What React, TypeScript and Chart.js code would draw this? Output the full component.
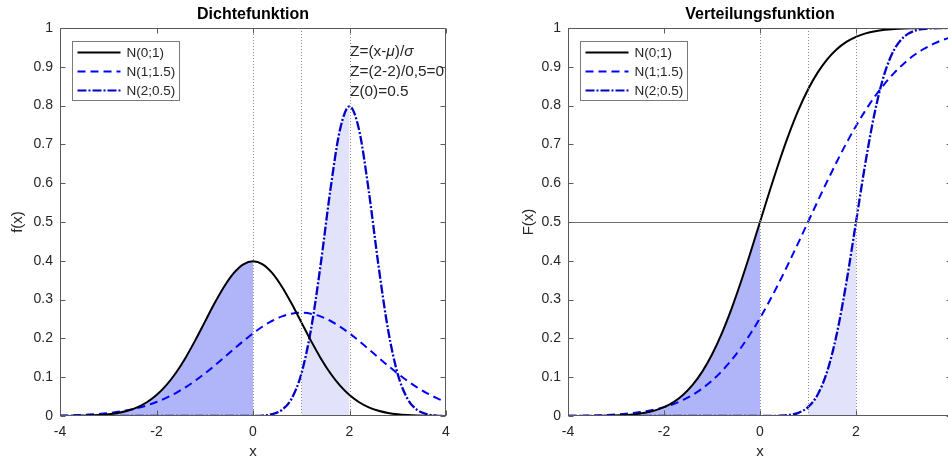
import React, { useEffect, useRef } from "react";
import { Chart, registerables } from "chart.js";

Chart.register(...registerables);

const FONT = "'Liberation Sans', Arial, Helvetica, sans-serif";

// x grid of the sampled curves
const xValues = [
  -4, -3.8, -3.6, -3.4, -3.2, -3, -2.8, -2.6, -2.4, -2.2, -2, -1.8, -1.6, -1.4, -1.2, -1, -0.8, -0.6, -0.4, -0.2,
  0, 0.2, 0.4, 0.6, 0.8, 1, 1.2, 1.4, 1.6, 1.8, 2, 2.2, 2.4, 2.6, 2.8, 3, 3.2, 3.4, 3.6, 3.8, 4,
];

// Dichtefunktion
const pdfN01 = [
  0.0001, 0.0003, 0.0006, 0.0012, 0.0024, 0.0044, 0.0079, 0.0136, 0.0224, 0.0355, 0.054, 0.079, 0.1109, 0.1497, 0.1942, 0.242, 0.2897, 0.3332, 0.3683, 0.391,
  0.3989, 0.391, 0.3683, 0.3332, 0.2897, 0.242, 0.1942, 0.1497, 0.1109, 0.079, 0.054, 0.0355, 0.0224, 0.0136, 0.0079, 0.0044, 0.0024, 0.0012, 0.0006, 0.0003, 0.0001,
];
const pdfN115 = [
  0.001, 0.0016, 0.0024, 0.0036, 0.0053, 0.0076, 0.0107, 0.0149, 0.0204, 0.0273, 0.036, 0.0466, 0.0592, 0.0739, 0.0907, 0.1093, 0.1295, 0.1506, 0.1721, 0.1931,
  0.213, 0.2307, 0.2455, 0.2567, 0.2636, 0.266, 0.2636, 0.2567, 0.2455, 0.2307, 0.213, 0.1931, 0.1721, 0.1506, 0.1295, 0.1093, 0.0907, 0.0739, 0.0592, 0.0466, 0.036,
];
const pdfN205 = [
  0, 0, 0, 0, 0, 0, 0, 0, 0, 0, 0, 0, 0, 0, 0, 0, 0, 0, 0, 0,
  0.0003, 0.0012, 0.0048, 0.0158, 0.0448, 0.108, 0.2218, 0.3884, 0.5794, 0.7366, 0.7979, 0.7366, 0.5794, 0.3884, 0.2218, 0.108, 0.0448, 0.0158, 0.0048, 0.0012, 0.0003,
];

// Verteilungsfunktion
const cdfN01 = [
  0, 0.0001, 0.0002, 0.0003, 0.0007, 0.0013, 0.0026, 0.0047, 0.0082, 0.0139, 0.0228, 0.0359, 0.0548, 0.0808, 0.1151, 0.1587, 0.2119, 0.2743, 0.3446, 0.4207,
  0.5, 0.5793, 0.6554, 0.7257, 0.7881, 0.8413, 0.8849, 0.9192, 0.9452, 0.9641, 0.9772, 0.9861, 0.9918, 0.9953, 0.9974, 0.9987, 0.9993, 0.9997, 0.9998, 0.9999, 1,
];
const cdfN115 = [
  0.0004, 0.0007, 0.0011, 0.0017, 0.0026, 0.0038, 0.0056, 0.0082, 0.0117, 0.0164, 0.0228, 0.031, 0.0415, 0.0548, 0.0712, 0.0912, 0.1151, 0.1431, 0.1753, 0.2119,
  0.2525, 0.2969, 0.3446, 0.3949, 0.447, 0.5, 0.553, 0.6051, 0.6554, 0.7031, 0.7475, 0.7881, 0.8247, 0.8569, 0.8849, 0.9088, 0.929, 0.9452, 0.9585, 0.969, 0.9772,
];
const cdfN205 = [
  0, 0, 0, 0, 0, 0, 0, 0, 0, 0, 0, 0, 0, 0, 0, 0, 0, 0, 0, 0,
  0, 0.0002, 0.0007, 0.0026, 0.0082, 0.0228, 0.0548, 0.1151, 0.2119, 0.3446, 0.5, 0.6554, 0.7881, 0.8849, 0.9452, 0.9772, 0.9918, 0.9974, 0.9993, 0.9998, 1,
];

const seriesNames = ["N(0;1)", "N(1;1.5)", "N(2;0.5)"];
const panelTitles = ["Dichtefunktion", "Verteilungsfunktion"];
const axisTitlesY = ["f(x)", "F(x)"];
const axisTitleX = "x";
const xTicks = [-4, -2, 0, 2, 4];
const yTicks = [0, 0.1, 0.2, 0.3, 0.4, 0.5, 0.6, 0.7, 0.8, 0.9, 1];
const markerX = [0, 1, 2];
const cdfRefLevel = 0.5;
const shadeDarkRange = [-4, 0];
const shadeLightRange = [1, 2];
const annotationLines = ["Z=(x-μ)/σ", "Z=(2-2)/0,5=0", "Z(0)=0.5"];
const annotationX = 2;

const COL_BLACK = "#000000";
const COL_BLUE = "#0000ff";
const COL_BLUE2 = "#0000c8";
const COL_DARK_FILL = "#b0b4f8";
const COL_LIGHT_FILL = "#e2e2fb";
const TXT = "#262626";

function pts(ys: number[], from = -Infinity, to = Infinity) {
  const out: { x: number; y: number }[] = [];
  xValues.forEach((x, i) => {
    if (x >= from - 1e-9 && x <= to + 1e-9) out.push({ x, y: ys[i] });
  });
  return out;
}

type PanelCfg = {
  title: string;
  yTitle: string;
  curves: number[][];
  padLeft: number;
  axisW: number;
  padRight: number;
  width: number;
  refLine: boolean;
  annotate: boolean;
};

const styles = [
  { color: COL_BLACK, dash: [] as number[], width: 2 },
  { color: COL_BLUE, dash: [8, 5], width: 2 },
  { color: COL_BLUE2, dash: [9, 2, 2, 2], width: 2.3 },
];

function makeChart(canvas: HTMLCanvasElement, cfg: PanelCfg) {
  const [c0, , c2] = cfg.curves;
  const datasets: any[] = [
    ...cfg.curves.map((c, i) => ({
      label: seriesNames[i],
      data: pts(c),
      borderColor: styles[i].color,
      borderDash: styles[i].dash,
      borderWidth: styles[i].width,
      fill: false,
      order: 1,
    })),
    {
      label: "shade-dark",
      data: pts(c0, shadeDarkRange[0], shadeDarkRange[1]),
      borderWidth: 0,
      borderColor: "rgba(0,0,0,0)",
      backgroundColor: COL_DARK_FILL,
      fill: "origin",
      order: 5,
    },
    {
      label: "shade-light",
      data: pts(c2, shadeLightRange[0], shadeLightRange[1]),
      borderWidth: 0,
      borderColor: "rgba(0,0,0,0)",
      backgroundColor: COL_LIGHT_FILL,
      fill: "origin",
      order: 5,
    },
  ];

  const decor = {
    id: "decor",
    afterDatasetsDraw(chart: any) {
      const { ctx, chartArea: a, scales } = chart;
      const xs = scales.x;
      const ys = scales.y;
      const L = Math.round(a.left) + 0.5;
      const R = Math.round(a.right) - 0.5;
      const T = Math.round(a.top) + 0.5;
      const B = Math.round(a.bottom) - 0.5;
      ctx.save();
      // dotted markers
      ctx.beginPath();
      for (const v of markerX) {
        const px = Math.round(xs.getPixelForValue(v)) + 0.5;
        ctx.moveTo(px, a.top);
        ctx.lineTo(px, a.bottom);
      }
      ctx.setLineDash([1, 2]);
      ctx.strokeStyle = "#8c8c8c";
      ctx.lineWidth = 1;
      ctx.stroke();
      ctx.setLineDash([]);
      if (cfg.refLine) {
        const py = Math.round(ys.getPixelForValue(cdfRefLevel)) + 0.5;
        ctx.beginPath();
        ctx.moveTo(a.left, py);
        ctx.lineTo(a.right, py);
        ctx.strokeStyle = "#707070";
        ctx.stroke();
      }
      // box
      ctx.beginPath();
      ctx.moveTo(L, T);
      ctx.lineTo(R, T);
      ctx.lineTo(R, B);
      ctx.lineTo(L, B);
      ctx.closePath();
      // ticks
      for (const v of xTicks) {
        const px = Math.round(xs.getPixelForValue(v)) + 0.5;
        ctx.moveTo(px, B);
        ctx.lineTo(px, B - 5);
        ctx.moveTo(px, T);
        ctx.lineTo(px, T + 5);
      }
      for (const v of yTicks) {
        const py = Math.round(ys.getPixelForValue(v)) + 0.5;
        ctx.moveTo(L, py);
        ctx.lineTo(L + 5, py);
        ctx.moveTo(R, py);
        ctx.lineTo(R - 5, py);
      }
      ctx.strokeStyle = "#5a5a5a";
      ctx.lineWidth = 1;
      ctx.stroke();

      // title
      ctx.fillStyle = "#000";
      ctx.font = `bold 16px ${FONT}`;
      ctx.textAlign = "center";
      ctx.textBaseline = "middle";
      ctx.fillText(cfg.title, (a.left + a.right) / 2, 15);

      // annotation
      if (cfg.annotate) {
        ctx.save();
        ctx.beginPath();
        ctx.rect(a.left, a.top, a.right - a.left, a.bottom - a.top);
        ctx.clip();
        const ax = xs.getPixelForValue(annotationX) + 0.5;
        ctx.textAlign = "left";
        ctx.fillStyle = TXT;
        annotationLines.forEach((line, i) => {
          let x = ax;
          const y = 52 + i * 20;
          for (const ch of line) {
            const greek = /[\u0370-\u03ff\u00b5]/.test(ch);
            ctx.font = `${greek ? "italic " : ""}15.4px ${FONT}`;
            ctx.fillText(ch, x, y);
            x += ctx.measureText(ch).width;
          }
        });
        ctx.restore();
      }

      // legend
      const bx = Math.round(a.left) + 12.5;
      const by = Math.round(a.top) + 13.5;
      const bw = 107;
      const bh = 59;
      ctx.fillStyle = "#fff";
      ctx.fillRect(bx, by, bw, bh);
      ctx.strokeStyle = "#7a7a7a";
      ctx.lineWidth = 1;
      ctx.strokeRect(bx, by, bw, bh);
      ctx.font = `13.5px ${FONT}`;
      ctx.textAlign = "left";
      ctx.textBaseline = "middle";
      seriesNames.forEach((name, i) => {
        const y = by + 11 + i * 19;
        ctx.beginPath();
        ctx.setLineDash(styles[i].dash);
        ctx.strokeStyle = styles[i].color;
        ctx.lineWidth = 2;
        ctx.moveTo(bx + 5, y);
        ctx.lineTo(bx + 48, y);
        ctx.stroke();
        ctx.setLineDash([]);
        ctx.fillStyle = TXT;
        ctx.fillText(name, bx + 54, y + 0.5);
      });
      ctx.restore();
    },
  };

  return new Chart(canvas, {
    type: "line",
    data: { datasets },
    options: {
      responsive: false,
      maintainAspectRatio: false,
      animation: false,
      parsing: false as any,
      layout: { padding: { left: cfg.padLeft, top: 28, right: cfg.padRight, bottom: 0 } },
      elements: {
        point: { radius: 0, hoverRadius: 0 },
        line: { cubicInterpolationMode: "monotone", tension: 0.4 },
      },
      plugins: {
        legend: { display: false },
        tooltip: { enabled: false },
        title: { display: false },
      },
      events: [],
      scales: {
        x: {
          type: "linear",
          min: -4,
          max: 4,
          afterBuildTicks: (s: any) => {
            s.ticks = xTicks.map((v) => ({ value: v }));
          },
          afterFit: (s: any) => {
            s.height = 45;
            s.paddingLeft = 0;
            s.paddingRight = 0;
          },
          grid: { display: false, drawTicks: false },
          border: { display: false },
          ticks: {
            padding: 8,
            autoSkip: false,
            maxRotation: 0,
            color: TXT,
            font: { family: FONT, size: 14 },
            callback: (v: any) => String(v),
          },
          title: { display: true, text: axisTitleX, color: TXT, font: { family: FONT, size: 15 }, padding: 0 },
        },
        y: {
          type: "linear",
          min: 0,
          max: 1,
          afterBuildTicks: (s: any) => {
            s.ticks = yTicks.map((v) => ({ value: v }));
          },
          afterFit: (s: any) => {
            s.width = cfg.axisW;
            s.paddingTop = 0;
            s.paddingBottom = 0;
          },
          grid: { display: false, drawTicks: false },
          border: { display: false },
          ticks: {
            padding: 7,
            autoSkip: false,
            color: TXT,
            font: { family: FONT, size: 14 },
            callback: (v: any) => String(Math.round(Number(v) * 10) / 10),
          },
          title: { display: true, text: cfg.yTitle, color: TXT, font: { family: FONT, size: 15 }, padding: 0 },
        },
      },
    },
    plugins: [decor],
  } as any);
}

function Panel({ cfg, left }: { cfg: PanelCfg; left: number }) {
  const ref = useRef<HTMLCanvasElement | null>(null);
  useEffect(() => {
    if (!ref.current) return;
    const ch = makeChart(ref.current, cfg);
    return () => ch.destroy();
  }, []);
  return (
    <div style={{ position: "absolute", left, top: 0, width: cfg.width, height: 461 }}>
      <canvas ref={ref} width={cfg.width} height={461} style={{ width: cfg.width, height: 461, display: "block" }} />
    </div>
  );
}

const leftCfg: PanelCfg = {
  title: panelTitles[0],
  yTitle: axisTitlesY[0],
  curves: [pdfN01, pdfN115, pdfN205],
  padLeft: 9,
  axisW: 51,
  padRight: 28,
  width: 474,
  refLine: false,
  annotate: true,
};

const rightCfg: PanelCfg = {
  title: panelTitles[1],
  yTitle: axisTitlesY[1],
  curves: [cdfN01, cdfN115, cdfN205],
  padLeft: 46,
  axisW: 48,
  padRight: 4,
  width: 482,
  refLine: true,
  annotate: false,
};

export default function App() {
  useEffect(() => {
    document.body.style.margin = "0";
    document.body.style.overflow = "hidden";
    document.documentElement.style.overflow = "hidden";
  }, []);
  return (
    <div style={{ position: "fixed", left: 0, top: 0, width: 948, height: 461, overflow: "hidden", background: "#fff" }}>
      <Panel cfg={leftCfg} left={0} />
      <Panel cfg={rightCfg} left={474} />
    </div>
  );
}
